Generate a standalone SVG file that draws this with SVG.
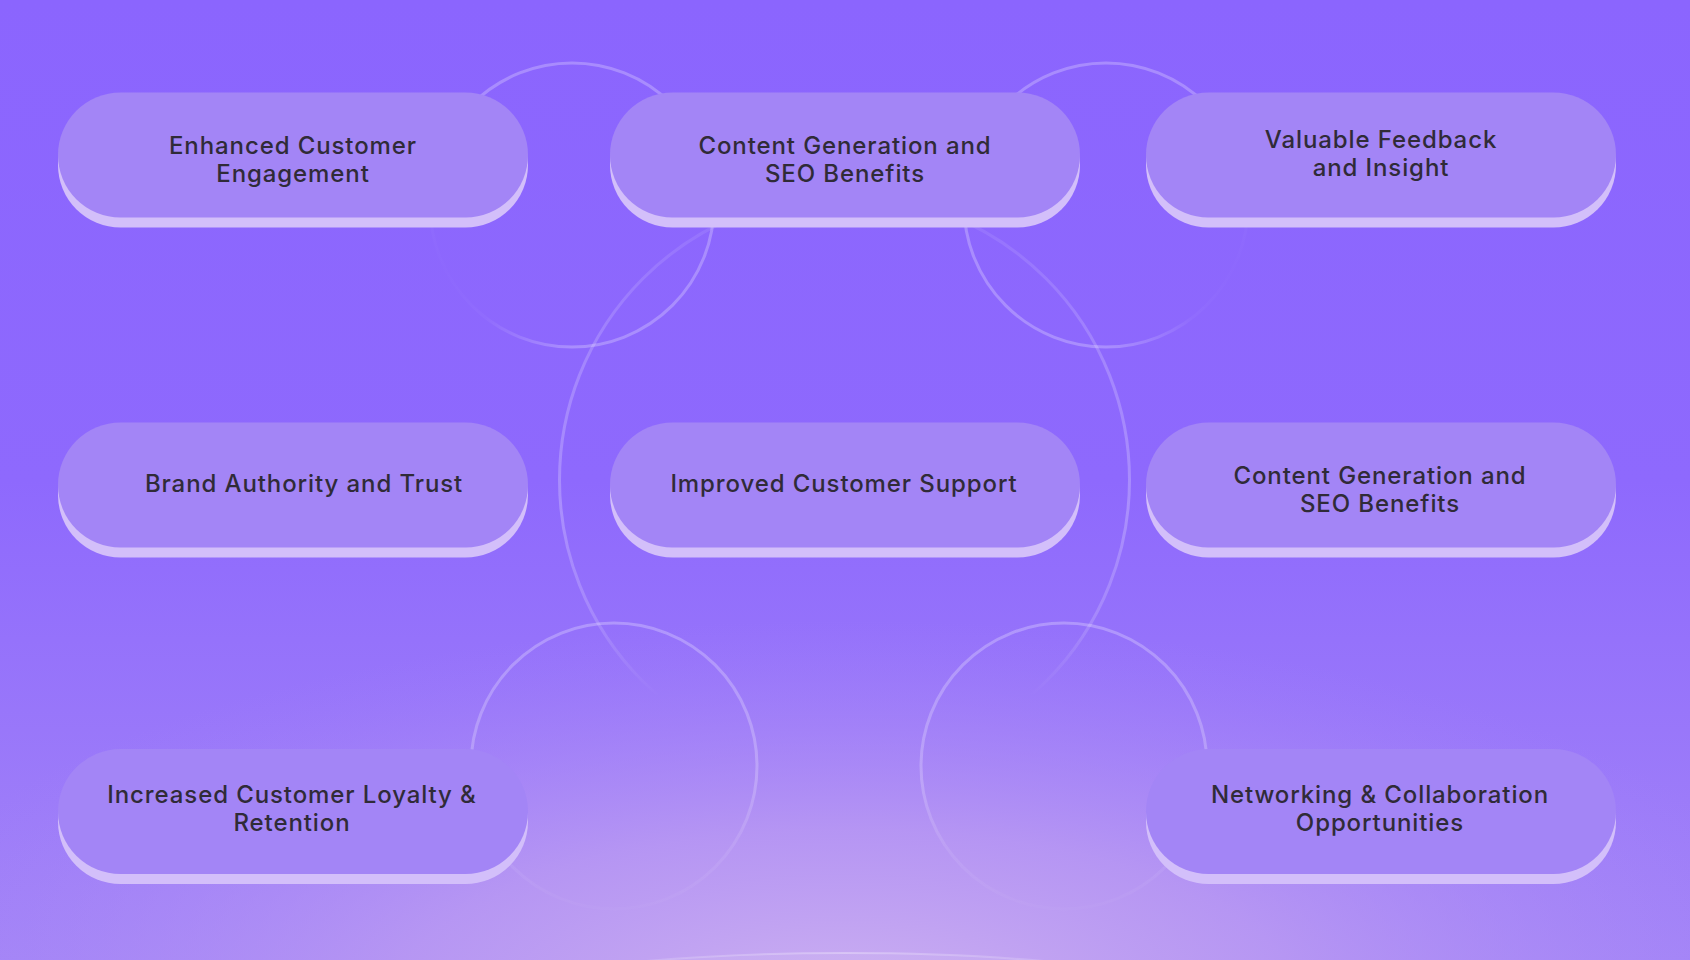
<svg xmlns="http://www.w3.org/2000/svg" width="1690" height="960" viewBox="0 0 1690 960">
<defs>
<style>
.pill{fill:#a385f6}
.sh{fill:#d3bffa}
.t{font-family:Inter,"Noto Sans","Liberation Sans",sans-serif;font-size:24px;font-weight:500;fill:#302b38;text-anchor:middle;letter-spacing:0.9px}
.ring{fill:none;stroke-width:3}
</style>
<linearGradient id="bg" x1="0" y1="0" x2="0" y2="1">
<stop offset="0" stop-color="#8b65fe"/>
<stop offset="0.5" stop-color="#8e69fd"/>
<stop offset="1" stop-color="#a384f7"/>
</linearGradient>
<radialGradient id="glow" gradientUnits="userSpaceOnUse" cx="845" cy="1000" r="1000" gradientTransform="translate(845 1000) scale(1 0.38) translate(-845 -1000)">
<stop offset="0" stop-color="#ccb0f1" stop-opacity="1"/>
<stop offset="0.45" stop-color="#bb9bf2" stop-opacity="0.8"/>
<stop offset="1" stop-color="#a585f8" stop-opacity="0"/>
</radialGradient>
<linearGradient id="gBig" gradientUnits="userSpaceOnUse" x1="0" y1="195" x2="0" y2="765">
<stop offset="0" stop-color="#fff" stop-opacity="0.05"/>
<stop offset="0.1" stop-color="#fff" stop-opacity="0.1"/>
<stop offset="0.3" stop-color="#fff" stop-opacity="0.2"/>
<stop offset="0.55" stop-color="#fff" stop-opacity="0.24"/>
<stop offset="0.75" stop-color="#fff" stop-opacity="0.16"/>
<stop offset="0.88" stop-color="#fff" stop-opacity="0"/>
</linearGradient>
<radialGradient id="g1" gradientUnits="userSpaceOnUse" cx="425" cy="280" r="160">
<stop offset="0" stop-color="#fff" stop-opacity="0"/>
<stop offset="0.45" stop-color="#fff" stop-opacity="0.03"/>
<stop offset="1" stop-color="#fff" stop-opacity="0.25"/>
</radialGradient>
<radialGradient id="g2" gradientUnits="userSpaceOnUse" cx="1253" cy="280" r="160">
<stop offset="0" stop-color="#fff" stop-opacity="0"/>
<stop offset="0.45" stop-color="#fff" stop-opacity="0.03"/>
<stop offset="1" stop-color="#fff" stop-opacity="0.25"/>
</radialGradient>
<linearGradient id="g3" gradientUnits="userSpaceOnUse" x1="0" y1="624" x2="0" y2="908">
<stop offset="0" stop-color="#fff" stop-opacity="0.26"/>
<stop offset="0.55" stop-color="#fff" stop-opacity="0.22"/>
<stop offset="0.8" stop-color="#fff" stop-opacity="0.08"/>
<stop offset="1" stop-color="#fff" stop-opacity="0.02"/>
</linearGradient>
<linearGradient id="gArc" x1="0" y1="0" x2="1" y2="0">
<stop offset="0" stop-color="#fff" stop-opacity="0"/>
<stop offset="0.5" stop-color="#fff" stop-opacity="0.3"/>
<stop offset="1" stop-color="#fff" stop-opacity="0"/>
</linearGradient>
</defs>

<g id="background">
<rect x="0" y="0" width="1690" height="960" fill="url(#bg)"/>
<rect x="0" y="0" width="1690" height="960" fill="url(#glow)"/>
<ellipse cx="845" cy="1015" rx="400" ry="62" fill="#fff" fill-opacity="0.06" stroke="url(#gArc)" stroke-width="2"/>
</g>

<g id="connectors">
<circle class="ring" cx="844.5" cy="480" r="285" stroke="url(#gBig)"/>
<circle class="ring" cx="572" cy="205" r="142" stroke="url(#g1)"/>
<circle class="ring" cx="1106" cy="205" r="142" stroke="url(#g2)"/>
<circle class="ring" cx="614" cy="766" r="143" stroke="url(#g3)"/>
<circle class="ring" cx="1064" cy="766" r="143" stroke="url(#g3)"/>
</g>

<g id="node-enhanced-engagement">
<rect class="sh" x="58" y="102.5" width="470" height="125" rx="62.5"/>
<rect class="pill" x="58" y="92.5" width="470" height="125" rx="62.5"/>
<text class="t" x="293" y="154">Enhanced Customer</text>
<text class="t" x="293" y="182">Engagement</text>
</g>

<g id="node-content-seo-1">
<rect class="sh" x="610" y="102.5" width="470" height="125" rx="62.5"/>
<rect class="pill" x="610" y="92.5" width="470" height="125" rx="62.5"/>
<text class="t" x="845" y="154">Content Generation and</text>
<text class="t" x="845" y="182">SEO Benefits</text>
</g>

<g id="node-feedback-insight">
<rect class="sh" x="1146" y="102.5" width="470" height="125" rx="62.5"/>
<rect class="pill" x="1146" y="92.5" width="470" height="125" rx="62.5"/>
<text class="t" x="1381" y="148">Valuable Feedback</text>
<text class="t" x="1381" y="176">and Insight</text>
</g>

<g id="node-brand-authority">
<rect class="sh" x="58" y="432.5" width="470" height="125" rx="62.5"/>
<rect class="pill" x="58" y="422.5" width="470" height="125" rx="62.5"/>
<text class="t" x="304" y="492">Brand Authority and Trust</text>
</g>

<g id="node-customer-support">
<rect class="sh" x="610" y="432.5" width="470" height="125" rx="62.5"/>
<rect class="pill" x="610" y="422.5" width="470" height="125" rx="62.5"/>
<text class="t" x="844" y="492">Improved Customer Support</text>
</g>

<g id="node-content-seo-2">
<rect class="sh" x="1146" y="432.5" width="470" height="125" rx="62.5"/>
<rect class="pill" x="1146" y="422.5" width="470" height="125" rx="62.5"/>
<text class="t" x="1380" y="484">Content Generation and</text>
<text class="t" x="1380" y="512">SEO Benefits</text>
</g>

<g id="node-loyalty-retention">
<rect class="sh" x="58" y="759" width="470" height="125" rx="62.5"/>
<rect class="pill" x="58" y="749" width="470" height="125" rx="62.5"/>
<text class="t" x="292" y="803">Increased Customer Loyalty &amp;</text>
<text class="t" x="292" y="831">Retention</text>
</g>

<g id="node-networking">
<rect class="sh" x="1146" y="759" width="470" height="125" rx="62.5"/>
<rect class="pill" x="1146" y="749" width="470" height="125" rx="62.5"/>
<text class="t" x="1380" y="803">Networking &amp; Collaboration</text>
<text class="t" x="1380" y="831">Opportunities</text>
</g>
</svg>
